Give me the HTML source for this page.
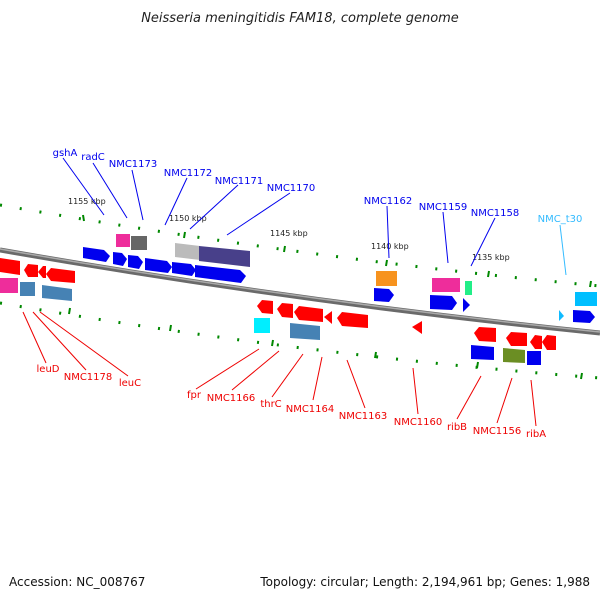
<!DOCTYPE html>
<html><head><meta charset="utf-8"><style>
body{margin:0;background:#fff}
svg{display:block;font-family:"DejaVu Sans","Liberation Sans",sans-serif}
.b{fill:#0000ee}.r{fill:#f00}
.lb{fill:#0000ee;font-size:10px}.lr{fill:#e00;font-size:10px}
.k{font-size:8px;fill:#222}
</style></head><body>
<svg width="600" height="600" viewBox="0 0 600 600">
<text x="300" y="22" text-anchor="middle" font-size="13" font-style="italic" fill="#222">Neisseria meningitidis FAM18, complete genome</text>
<text x="9" y="586" font-size="12" fill="#111">Accession: NC_008767</text>
<text x="590" y="586" font-size="12" fill="#111" text-anchor="end">Topology: circular; Length: 2,194,961 bp; Genes: 1,988</text>
<!-- backbone -->
<path d="M0,250 Q300,302.5 600,333" stroke="#6a6a6a" stroke-width="5" fill="none"/>
<path d="M0,249 Q300,301.5 600,332" stroke="#aaa" stroke-width="1.5" fill="none"/>
<!-- tick rows -->
<path d="M0,205 Q300,258 600,286" stroke="#080" stroke-width="3" fill="none" stroke-dasharray="2 18"/>
<path d="M0,303 Q300,355 600,378" stroke="#080" stroke-width="3" fill="none" stroke-dasharray="2 18"/>
<g stroke="#080" stroke-width="2">
<line x1="83" y1="215" x2="84" y2="221"/><line x1="185" y1="232" x2="184" y2="238"/><line x1="285" y1="246" x2="284" y2="252"/><line x1="387" y1="260" x2="386" y2="266"/><line x1="489" y1="271" x2="488" y2="277"/><line x1="591" y1="281" x2="590" y2="287"/>
<line x1="70" y1="308" x2="69" y2="314"/><line x1="171" y1="325" x2="170" y2="331"/><line x1="273" y1="340" x2="272" y2="346"/><line x1="376" y1="352" x2="375" y2="358"/><line x1="478" y1="362" x2="477" y2="368"/><line x1="582" y1="373" x2="581" y2="379"/>
</g>
<g class="k">
<text x="68" y="204">1155 kbp</text><text x="169" y="221">1150 kbp</text><text x="270" y="236">1145 kbp</text><text x="371" y="249">1140 kbp</text><text x="472" y="260">1135 kbp</text>
</g>
<!-- forward genes -->
<g>
<polygon class="b" points="83,247 104,250 110,256 106,262 83,258"/>
<polygon class="b" points="113,252 122,253 127,259 123,266 113,264"/>
<polygon class="b" points="128,255 138,256 143,262 139,269 128,267"/>
<polygon class="b" points="145,258 167,261 172,267 168,273 145,270"/>
<polygon class="b" points="172,262 191,264 196,270 192,276 172,273"/>
<polygon class="b" points="195,265 240,270 246,276 241,283 195,277"/>
<rect x="116" y="234" width="14" height="13" fill="#ee2d9b"/>
<rect x="131" y="236" width="16" height="14" fill="#666"/>
<polygon points="175,243 200,246 200,260 175,257" fill="#bbb"/>
<polygon points="199,246 250,251 250,267 199,261" fill="#48408a"/>
<rect x="376" y="271" width="21" height="15" fill="#f7931e"/>
<polygon class="b" points="374,288 389,289 394,295 389,302 374,301"/>
<rect x="432" y="278" width="28" height="14" fill="#ee2d9b"/>
<polygon class="b" points="430,295 452,296 457,303 452,310 430,309"/>
<rect x="465" y="281" width="7" height="14" fill="#2e8"/>
<polygon class="b" points="463,298 470,305 463,312"/>
<rect x="575" y="292" width="22" height="14" fill="#00bfff"/>
<polygon class="b" points="573,310 590,311 595,317 590,323 573,322"/>
<polygon points="559,310 564,316 559,321" fill="#1bf"/>
</g>
<!-- reverse genes -->
<g>
<polygon class="r" points="0,258 20,261 20,275 0,272"/>
<polygon class="r" points="24,270 28,264 38,265 38,277 28,277"/>
<polygon class="r" points="38,272 43,266 46,266 46,278 43,278"/>
<polygon class="r" points="46,274 51,268 75,271 75,283 51,281"/>
<rect x="0" y="278" width="18" height="15" fill="#ee2d9b"/>
<rect x="20" y="282" width="15" height="14" fill="#4682b4"/>
<polygon points="42,285 72,289 72,301 42,298" fill="#4682b4"/>
<polygon class="r" points="257,306 262,300 273,301 273,314 262,313"/>
<polygon class="r" points="277,309 282,303 293,304 293,318 282,317"/>
<polygon class="r" points="294,312 299,306 323,309 323,322 299,320"/>
<polygon class="r" points="324,317 332,311 332,324"/>
<polygon class="r" points="337,318 342,312 368,315 368,328 342,326"/>
<rect x="254" y="318" width="16" height="15" fill="#0ef"/>
<polygon points="290,323 320,326 320,340 290,338" fill="#4682b4"/>
<polygon class="r" points="412,327 422,321 422,334"/>
<polygon class="r" points="474,333 479,327 496,328 496,342 479,341"/>
<polygon class="r" points="506,338 511,332 527,333 527,346 511,346"/>
<polygon class="r" points="530,342 535,335 542,336 542,349 535,349"/>
<polygon class="r" points="542,342 547,335 556,336 556,350 547,350"/>
<polygon class="b" points="471,345 494,347 494,360 471,359"/>
<polygon points="503,348 525,350 525,363 503,362" fill="#6b8e23"/>
<rect x="527" y="351" width="14" height="14" class="b"/>
</g>
<!-- label lines -->
<g stroke="#00e" stroke-width="1">
<line x1="63" y1="158" x2="104" y2="215"/><line x1="93" y1="163" x2="127" y2="218"/><line x1="132" y1="170" x2="143" y2="220"/><line x1="187" y1="178" x2="165" y2="225"/><line x1="238" y1="185" x2="190" y2="229"/><line x1="290" y1="193" x2="227" y2="235"/>
<line x1="387" y1="206" x2="389" y2="258"/><line x1="443" y1="212" x2="448" y2="263"/><line x1="495" y1="218" x2="471" y2="266"/>
</g>
<line x1="560" y1="225" x2="566" y2="275" stroke="#3bf"/>
<g stroke="#e00" stroke-width="1">
<line x1="23" y1="312" x2="46" y2="363"/><line x1="33" y1="312" x2="86" y2="370"/><line x1="40" y1="312" x2="128" y2="376"/>
<line x1="259" y1="349" x2="196" y2="389"/><line x1="279" y1="351" x2="232" y2="390"/><line x1="303" y1="354" x2="272" y2="397"/><line x1="322" y1="357" x2="313" y2="400"/><line x1="347" y1="360" x2="365" y2="408"/><line x1="413" y1="368" x2="418" y2="414"/><line x1="481" y1="376" x2="457" y2="419"/><line x1="512" y1="378" x2="497" y2="423"/><line x1="531" y1="380" x2="536" y2="426"/>
</g>
<g class="lb" text-anchor="middle">
<text x="65" y="156">gshA</text><text x="93" y="160">radC</text><text x="133" y="167">NMC1173</text><text x="188" y="176">NMC1172</text><text x="239" y="184">NMC1171</text><text x="291" y="191">NMC1170</text>
<text x="388" y="204">NMC1162</text><text x="443" y="210">NMC1159</text><text x="495" y="216">NMC1158</text>
<text x="560" y="222" style="fill:#3bf">NMC_t30</text>
</g>
<g class="lr" text-anchor="middle">
<text x="48" y="372">leuD</text><text x="88" y="380">NMC1178</text><text x="130" y="386">leuC</text>
<text x="194" y="398">fpr</text><text x="231" y="401">NMC1166</text><text x="271" y="407">thrC</text><text x="310" y="412">NMC1164</text><text x="363" y="419">NMC1163</text><text x="418" y="425">NMC1160</text><text x="457" y="430">ribB</text><text x="497" y="434">NMC1156</text><text x="536" y="437">ribA</text>
</g>
</svg>
</body></html>
